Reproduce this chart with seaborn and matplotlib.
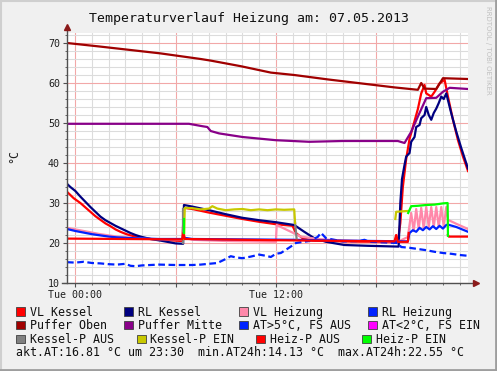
import numpy as np
import pandas as pd
import matplotlib
matplotlib.use("Agg")
import matplotlib.pyplot as plt
from matplotlib.patches import Rectangle
from matplotlib.lines import Line2D
import seaborn as sns

# hours relative to 07.05.2013 00:00, temperatures in °C
vl_kessel_h = [-0.5, -0.3, -0.1, 0.1, 0.3, 0.6, 0.9, 1.2, 1.5, 1.8, 2.1, 2.4, 2.7, 3.0, 3.3, 3.6, 3.9, 4.5,
               5.5, 6.4, 6.5, 7.0, 8.0, 9.0, 10.0,
               11.0, 12.0, 13.0, 13.2, 13.6, 14.2, 16.0, 19.3, 19.45, 19.6, 19.8, 20.0, 20.3, 20.5,
               20.7, 20.9, 21.0, 21.3, 21.5, 21.8, 22.1, 22.3, 22.6, 22.9, 23.2, 23.5]
vl_kessel_t = [32.8, 32.0, 31.2, 30.6, 30.0, 28.9, 27.8, 26.7, 25.8, 24.9, 24.2, 23.4, 22.8, 22.3, 21.9, 21.6,
               21.3, 21.0, 20.7, 20.5, 28.8, 28.5, 27.6, 26.8,
               26.0, 25.3, 24.7, 24.3, 22.5, 21.2, 20.6, 20.4, 20.2, 25.0, 34.0, 41.0, 46.0, 50.5, 53.5,
               57.4, 59.5, 57.4, 56.6, 57.8, 59.9, 60.8, 56.6, 50.8, 45.7, 41.6, 38.0]

rl_kessel_h = [-0.5, -0.3, 0.0, 0.3, 0.6, 0.9, 1.2, 1.5, 1.8, 2.1, 2.4, 2.7, 3.0, 3.3, 3.6, 3.9, 4.5, 5.1, 6.0,
               6.45, 6.5, 7.0, 8.0, 9.0, 10.0,
               11.0, 12.0, 13.1, 13.7, 14.3, 15.0, 16.1, 17.5, 19.35, 19.45, 19.55, 19.7, 19.8, 20.0, 20.1,
               20.3, 20.4, 20.6, 20.7, 20.9, 21.0, 21.15, 21.3, 21.45, 21.6, 21.75, 21.9, 22.05, 22.2,
               22.5, 22.8, 23.1, 23.5]
rl_kessel_t = [34.8, 34.0, 33.0, 31.6, 30.3, 29.0, 27.8, 26.6, 25.7, 25.0, 24.3, 23.7, 23.1, 22.5, 22.0, 21.6,
               21.0, 20.6, 19.9, 19.8, 29.5, 29.1, 28.2,
               27.2, 26.3, 25.7, 25.2, 24.5, 22.8, 21.2, 20.3, 19.5, 19.3, 19.1, 30.0, 36.0, 39.5, 41.6, 42.5,
               45.3, 46.5, 49.0, 49.5, 51.2, 52.0, 54.0, 52.0, 50.8, 52.5, 53.6, 55.0, 56.6, 56.0, 57.4,
               52.4, 47.8, 43.7, 38.6]

vl_heizung_h = [-0.5, 0.0, 0.5, 1.0, 1.5, 2.0, 2.5, 3.0, 3.5, 4.5, 6.4, 6.5, 7.0, 9.0, 12.0, 12.05, 12.5, 13.0,
                13.5, 14.0, 14.5,
                16.0, 19.3, 19.9, 20.1, 20.25, 20.4, 20.55, 20.7, 20.85, 21.0, 21.15, 21.3, 21.45, 21.6,
                21.75, 21.9, 22.05, 22.2, 22.3, 22.8, 23.5]
vl_heizung_t = [23.8, 23.4, 23.0, 22.6, 22.2, 21.9, 21.6, 21.4, 21.2, 21.0, 20.8, 21.4, 20.8, 20.5, 20.3, 24.5,
                23.6, 22.6, 21.6, 21.3,
                21.0, 20.6, 20.3, 21.5, 27.5, 23.0, 28.5, 23.5, 28.8, 23.5, 29.0, 24.0, 29.0, 24.0, 29.0,
                24.0, 29.0, 24.0, 29.0, 25.8, 24.8, 23.5]

rl_heizung_h = [-0.5, 0.0, 0.5, 1.0, 1.5, 2.0, 2.5, 3.5, 5.0, 6.4, 6.5, 7.0, 10.0, 13.0, 16.0, 19.9, 20.0, 20.2,
                20.4, 20.6,
                20.8, 21.0, 21.2, 21.4, 21.6, 21.8, 22.0, 22.2, 22.3, 22.8, 23.5]
rl_heizung_t = [23.5, 23.0, 22.6, 22.2, 21.9, 21.6, 21.4, 21.2, 21.0, 21.0, 21.3, 21.0, 20.9, 20.8, 20.6, 20.4,
                22.5, 23.2, 22.8, 23.8,
                23.2, 24.0, 23.4, 24.2, 23.5, 24.3, 23.6, 24.5, 24.6, 24.0, 22.8]

puffer_oben_h = [-0.5, 1.5, 5.1, 7.5, 8.1, 9.9, 11.7, 13.1, 15.1, 17.1, 19.1, 20.5, 20.7, 20.9, 21.6, 22.0, 23.5]
puffer_oben_t = [70.0, 69.1, 67.4, 66.0, 65.6, 64.2, 62.6, 62.0, 60.9, 59.9, 58.9, 58.3, 60.0, 58.6, 58.5, 61.2, 61.0]

puffer_mitte_h = [-0.5, 6.8, 7.6, 7.9, 8.1, 8.6, 10.0, 12.0, 14.0, 16.0, 19.3, 19.7, 20.1, 20.5, 21.0, 21.6,
                  22.0, 22.4, 23.5]
puffer_mitte_t = [49.8, 49.8, 49.2, 49.0, 48.0, 47.4, 46.5, 45.7, 45.3, 45.5, 45.5, 45.0, 47.8, 51.6, 56.2, 56.3,
                  57.8, 58.8, 58.5]

aussen_h = [-0.5, 0.0, 0.5, 1.0, 1.5, 2.0, 2.5, 3.0, 3.3, 3.6, 4.0, 5.0, 6.0, 7.0, 7.5, 8.0, 8.5, 9.0, 9.3,
            9.6, 10.0, 10.5, 11.0, 11.4, 11.7, 12.0, 12.3, 12.6, 13.0, 13.2, 13.5, 14.0, 14.5, 14.7, 15.0,
            15.5, 16.0, 17.0, 17.3, 17.6, 19.3, 19.5, 20.0, 20.5, 21.0, 21.5, 22.0, 22.5, 23.0, 23.5]
aussen_t = [15.2, 15.1, 15.3, 15.0, 14.9, 14.7, 14.6, 14.8, 14.3, 14.2, 14.4, 14.6, 14.5, 14.5, 14.6, 14.8, 15.0,
            16.0, 16.7, 16.4, 16.2, 16.6, 17.1, 16.8, 16.5, 17.3, 17.5, 18.3, 19.4, 20.0, 20.2, 20.5, 21.5,
            22.55, 21.2, 20.8, 20.4, 20.5, 20.8, 20.3, 20.0, 19.0, 18.8, 18.5, 18.2, 17.8, 17.5, 17.3, 17.0, 16.8]

kessel_p_aus_h = [[6.42, 6.42], [13.15, 13.25]]
kessel_p_aus_t = [[20.0, 28.5], [25.0, 20.8]]

kessel_p_ein_h = [[6.5, 6.55, 7.0, 7.5, 8.0, 8.2, 8.5, 9.0, 9.5, 10.0, 10.5, 11.0, 11.5, 12.0, 12.5, 13.1, 13.15],
                  [19.15, 19.2, 19.5, 19.9]]
kessel_p_ein_t = [[21.0, 28.8, 28.7, 28.4, 28.6, 29.2, 28.6, 28.2, 28.4, 28.5, 28.2, 28.4, 28.2, 28.4, 28.3, 28.4, 25.0],
                  [26.0, 27.8, 27.9, 28.0]]

heiz_p_aus_h = [[-0.5, 3.0, 6.4, 6.47, 6.55, 10.0, 14.0, 19.1, 19.2, 19.3, 19.9, 19.95],
                [22.3, 22.35, 23.5]]
heiz_p_aus_t = [[21.1, 21.0, 20.9, 22.5, 21.0, 20.8, 20.6, 20.4, 22.0, 20.3, 20.3, 22.5],
                [22.0, 21.6, 21.6]]

heiz_p_ein_h = [[6.52, 6.52], [19.92, 20.1, 20.5, 21.0, 21.5, 22.0, 22.28, 22.3]]
heiz_p_ein_t = [[22.5, 26.0], [27.5, 29.2, 29.3, 29.5, 29.6, 29.9, 30.0, 21.8]]

legend_labels = ["VL Kessel", "RL Kessel", "VL Heizung", "RL Heizung",
                 "Puffer Oben", "Puffer Mitte", "AT>5°C, FS AUS", "AT<2°C, FS EIN",
                 "Kessel-P AUS", "Kessel-P EIN", "Heiz-P AUS", "Heiz-P EIN"]
legend_colors = ["#ff0000", "#000080", "#ff88aa", "#0022ff",
                 "#a00000", "#880088", "#0022ff", "#ff00ff",
                 "#808080", "#c8c800", "#ff0000", "#00ff00"]
footer = "akt.AT:16.81 °C um 23:30  min.AT24h:14.13 °C  max.AT24h:22.55 °C"
title = "Temperaturverlauf Heizung am: 07.05.2013"

plt.rcParams['font.family'] = ['DejaVu Sans Mono', 'DejaVu Sans']

W, H = 497, 371
fig = plt.figure(figsize=(W / 100, H / 100), dpi=100)
fig.patch.set_facecolor('#f0f0f0')
ax = fig.add_axes([67 / W, 88 / H, 401 / W, 250 / H])
ax.set_facecolor('white')

LW = 1.6


def line(h, t, color, **kw):
    sns.lineplot(x=h, y=t, color=color, lw=LW, sort=False, estimator=None,
                 legend=False, ax=ax, **kw)


line(vl_kessel_h, vl_kessel_t, legend_colors[0])
line(rl_kessel_h, rl_kessel_t, legend_colors[1])
line(vl_heizung_h, vl_heizung_t, legend_colors[2])
line(rl_heizung_h, rl_heizung_t, legend_colors[3])
line(puffer_oben_h, puffer_oben_t, legend_colors[4])
line(puffer_mitte_h, puffer_mitte_t, legend_colors[5])
line(aussen_h, aussen_t, legend_colors[6], linestyle=(0, (3, 1.6)))
for hh, tt in zip(kessel_p_aus_h, kessel_p_aus_t):
    line(hh, tt, legend_colors[8])
for hh, tt in zip(kessel_p_ein_h, kessel_p_ein_t):
    line(hh, tt, legend_colors[9])
for hh, tt in zip(heiz_p_aus_h, heiz_p_aus_t):
    line(hh, tt, legend_colors[10])
for hh, tt in zip(heiz_p_ein_h, heiz_p_ein_t):
    line(hh, tt, legend_colors[11])

ax.set_xlim(-0.5, 23.5)
ax.set_ylim(10, 72.5)
ax.set_xlabel('')
ax.set_ylabel('')

ax.set_xticks([0, 6, 12, 18])
ax.set_xticklabels(['Tue 00:00', '', 'Tue 12:00', ''])
ax.set_xticks(np.arange(0, 24, 1), minor=True)
ax.set_yticks(range(10, 71, 10))
ax.set_yticks(range(12, 73, 2), minor=True)
ax.grid(which='minor', color='#dcdcdc', lw=0.8)
ax.grid(which='major', color='#f2a8a8', lw=0.8)
ax.set_axisbelow(True)
ax.tick_params(which='both', direction='out', color='#505050', labelsize=7.2,
               labelcolor='#202020', pad=2)
ax.tick_params(which='major', length=3, width=0.8)
ax.tick_params(which='minor', length=1.5, width=0.6)
for s in ax.spines.values():
    s.set_visible(False)

# axis lines with arrows
ax.plot([-0.5, -0.5], [10, 73.6], color='#505050', lw=1, clip_on=False)
ax.plot([-0.8, 23.75], [10, 10], color='#505050', lw=1, clip_on=False)
ax.plot([-0.5], [74.0], marker='^', ms=4, color='#8b1a1a', clip_on=False)
ax.plot([23.95], [10], marker='>', ms=4, color='#8b1a1a', clip_on=False)

# texts
fig.text(249 / W, 1 - 21.7 / H, title, ha='center', va='baseline', fontsize=9.5, color='#101010')
fig.text(14 / W, 1 - 156 / H, '°C', rotation=90, ha='center', va='center', fontsize=8.4, color='#202020')
fig.text(488 / W, 1 - 6 / H, 'RRDTOOL / TOBI OETIKER', rotation=270, ha='center', va='top',
         fontsize=5, color='#c0c0c0', family='DejaVu Sans')

# legend
box_x = [16, 124, 239, 368, 16, 124, 239, 368, 16, 137, 256, 362]
text_x = [30, 138, 253, 382, 30, 138, 253, 382, 30, 150, 270, 376]
base_y = [315.7] * 4 + [329] * 4 + [343] * 4
for lab, col, bx, tx, by in zip(legend_labels, legend_colors, box_x, text_x, base_y):
    fig.add_artist(Rectangle((bx / W, 1 - by / H), 9 / W, 8.5 / H, transform=fig.transFigure,
                             facecolor=col, edgecolor='#404040', lw=0.6))
    fig.text(tx / W, 1 - by / H, lab, ha='left', va='baseline', fontsize=8.4, color='#101010')
fig.text(16 / W, 1 - 356.5 / H, footer, ha='left', va='baseline', fontsize=8.4, color='#101010')

# frame
fig.add_artist(Line2D([0, 1], [1 - 1 / H, 1 - 1 / H], transform=fig.transFigure, color='#cfcfcf', lw=1.5))
fig.add_artist(Line2D([1 / W, 1 / W], [0, 1], transform=fig.transFigure, color='#cfcfcf', lw=1.5))
fig.add_artist(Line2D([0, 1], [1.2 / H, 1.2 / H], transform=fig.transFigure, color='#9e9e9e', lw=2))
fig.add_artist(Line2D([1 - 1.2 / W, 1 - 1.2 / W], [0, 1], transform=fig.transFigure, color='#9e9e9e', lw=2))

fig.savefig('out.png', dpi=100, facecolor=fig.get_facecolor())
